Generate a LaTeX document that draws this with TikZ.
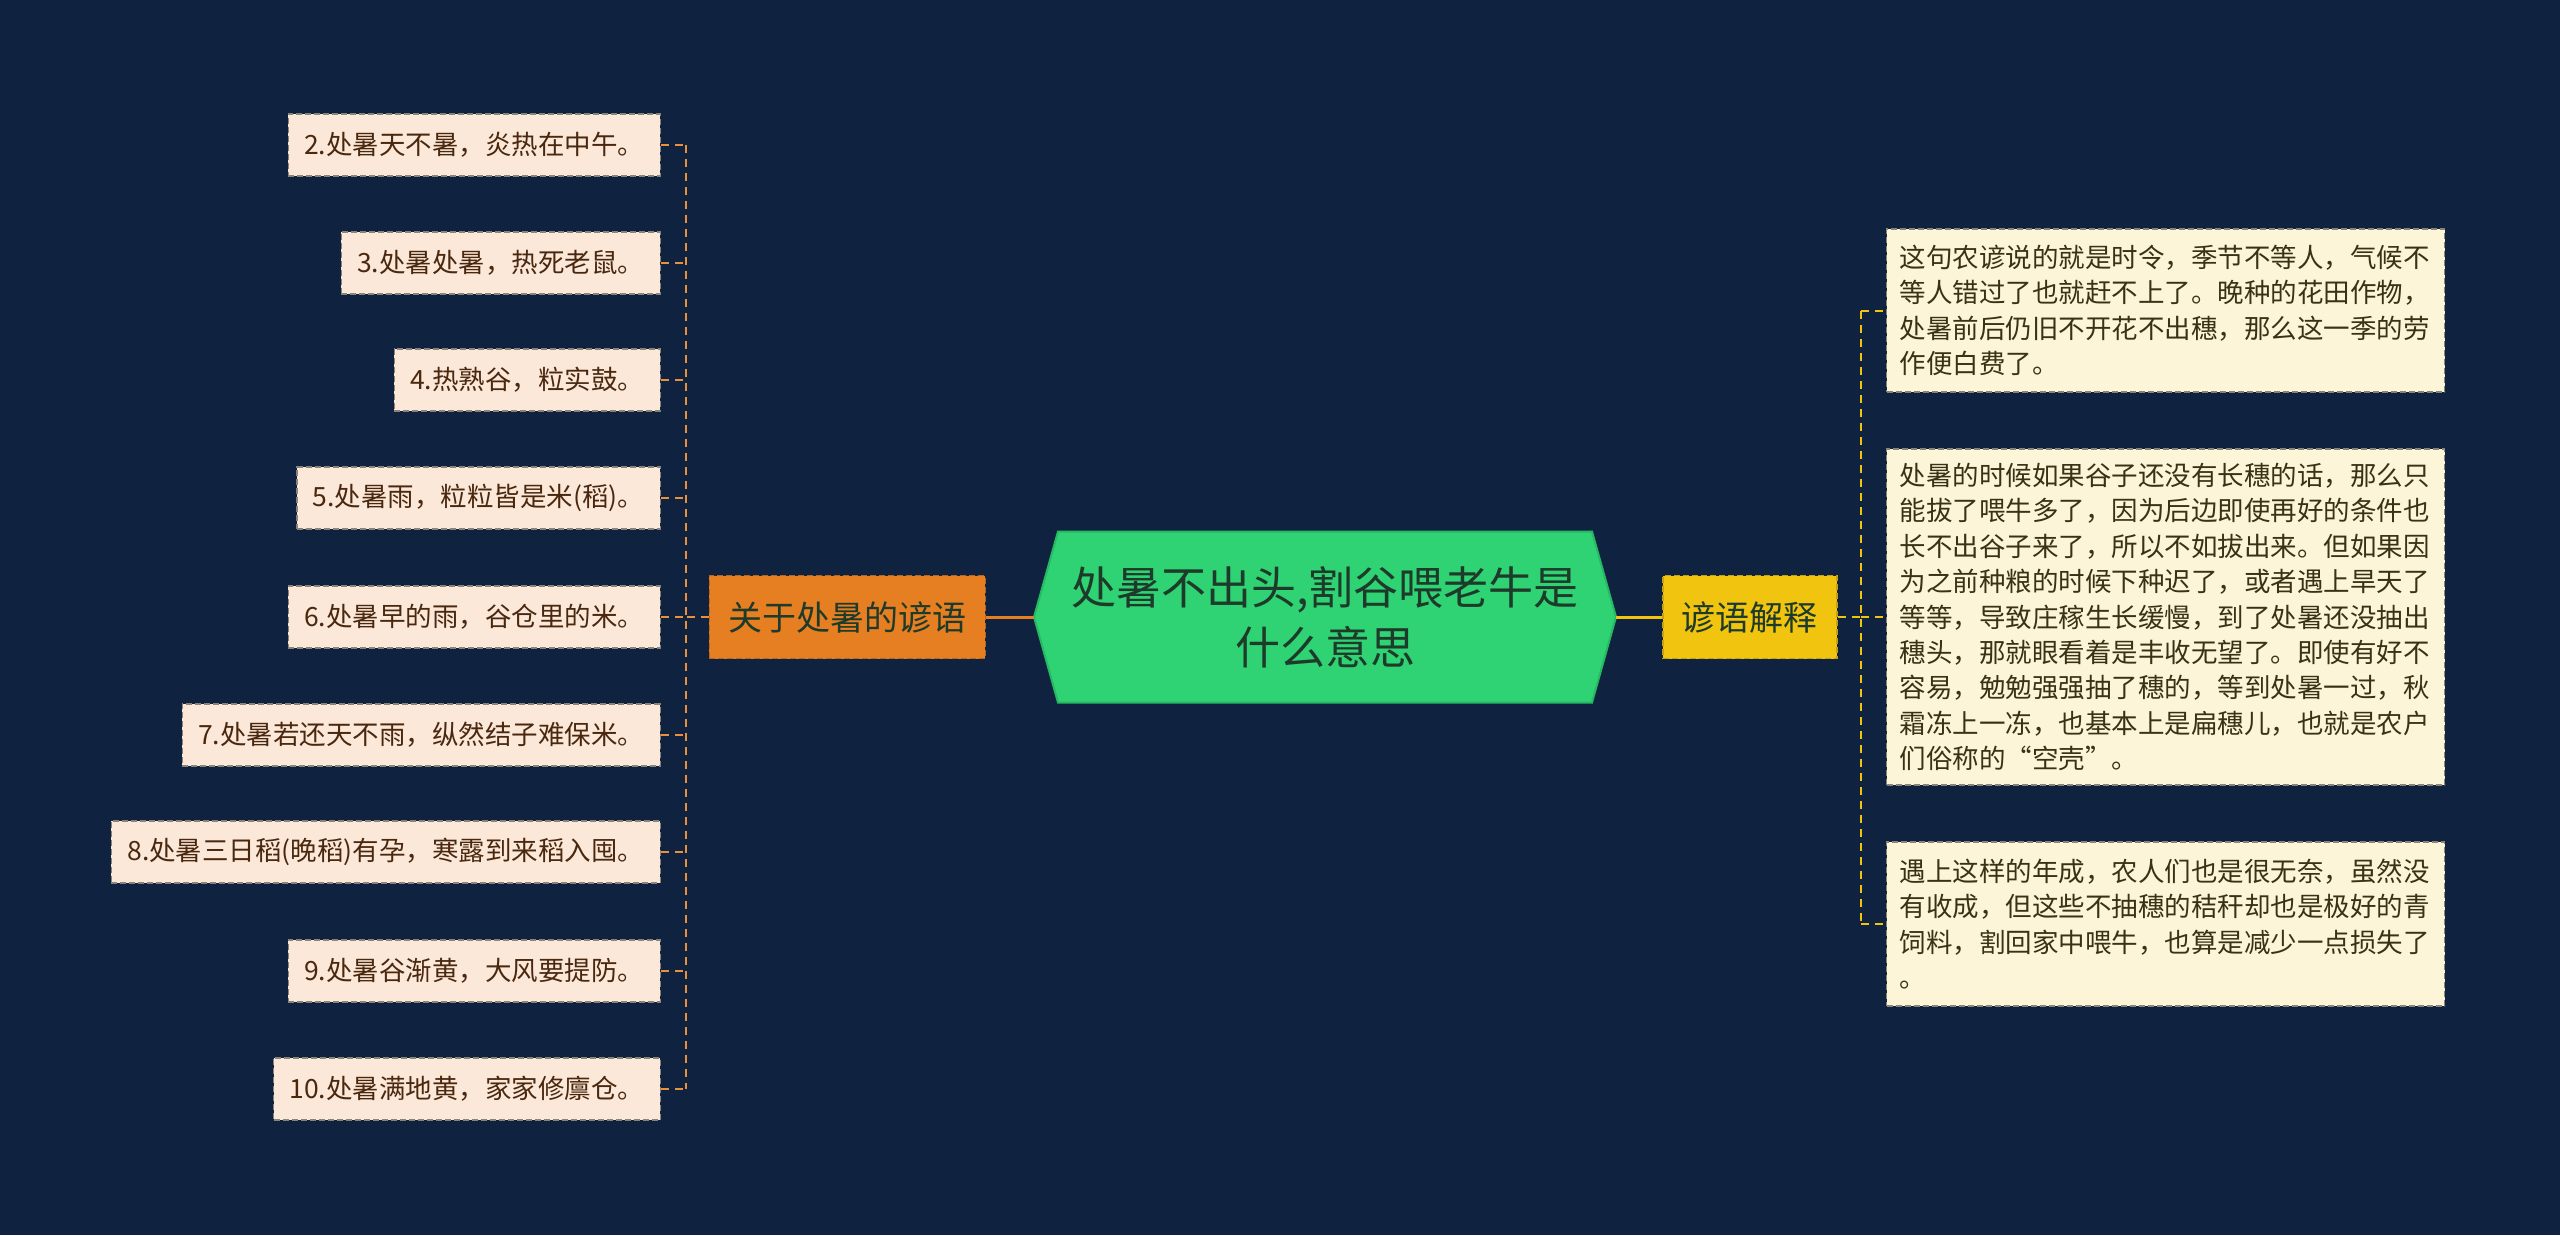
\documentclass[tikz,border=0pt]{standalone}
\usepackage{fontspec}
\setmainfont{Noto Sans CJK SC}
\usetikzlibrary{calc}
\definecolor{bg}{HTML}{0F2340}
\definecolor{hexgreen}{HTML}{2FD373}
\definecolor{hexborder}{HTML}{27B862}
\definecolor{hextext}{HTML}{1E3A2A}
\definecolor{orangeA}{HTML}{E67E22}
\definecolor{orangeB}{HTML}{B8651B}
\definecolor{yellowA}{HTML}{F1C40F}
\definecolor{yellowB}{HTML}{C7A10C}
\definecolor{leafLfill}{HTML}{FBE8D8}
\definecolor{leafLtext}{HTML}{4A2810}
\definecolor{leafRfill}{HTML}{FCF5D8}
\definecolor{leafRtext}{HTML}{3A3216}
\definecolor{leafborder}{HTML}{8A8378}
\definecolor{conL}{HTML}{E8913A}
\definecolor{conR}{HTML}{F1C40F}
\begin{document}
\begin{tikzpicture}[x=1pt,y=-1pt,
  leafL/.style={draw=leafborder, line width=1.3pt, dash pattern=on 6pt off 3pt, fill=leafLfill, text=leafLtext,
    font=\fontsize{26.5}{35.4}\selectfont, inner xsep=16pt, inner ysep=0pt, minimum height=62pt, anchor=east},
  leafR/.style={draw=leafborder, line width=1.3pt, dash pattern=on 6pt off 3pt, fill=leafRfill, text=leafRtext,
    font=\fontsize{26.5}{35.4}\selectfont, inner xsep=13pt, inner ysep=6pt, text width=532pt, align=left, anchor=west},
  midbox/.style={line width=1.5pt, dash pattern=on 6pt off 3pt, font=\fontsize{34}{40}\selectfont,
    inner xsep=19pt, inner ysep=0pt, minimum height=83pt},
  linkL/.style={draw=conL, line width=2pt, dash pattern=on 8pt off 6pt},
  linkR/.style={draw=conR, line width=2pt, dash pattern=on 8pt off 6pt}
]
\fill[bg] (0,0) rectangle (2560,1235);
\useasboundingbox (0,0) rectangle (2560,1235);

% central hexagon
\coordinate (rc) at (1325,617);
\coordinate (hexL) at ($(rc)+(-291,0)$);
\coordinate (hexR) at ($(rc)+(291,0)$);
\draw[fill=hexgreen, draw=hexborder, line width=2pt]
  (hexL) -- ($(rc)+(-267,-85.5)$) -- ($(rc)+(267,-85.5)$) -- (hexR)
  -- ($(rc)+(267,85.5)$) -- ($(rc)+(-267,85.5)$) -- cycle;
\node[text=hextext, font=\fontsize{45}{60}\selectfont, align=center] (root) at (rc)
  {处暑不出头,割谷喂老牛是\\什么意思};

% branch nodes
\node[midbox, draw=orangeB, fill=orangeA, text=hextext, anchor=east] (lore) at (986,617) {关于处暑的谚语};
\node[midbox, draw=yellowB, fill=yellowA, text=hextext, anchor=west] (expl) at (1662,617) {谚语解释};

% left leaves
\node[leafL] (b2) at (661,145) {2.处暑天不暑，炎热在中午。};
\node[leafL] (b3) at (661,263) {3.处暑处暑，热死老鼠。};
\node[leafL] (b4) at (661,380) {4.热熟谷，粒实鼓。};
\node[leafL] (b5) at (661,498) {5.处暑雨，粒粒皆是米(稻)。};
\node[leafL] (b6) at (661,617) {6.处暑早的雨，谷仓里的米。};
\node[leafL] (b7) at (661,735) {7.处暑若还天不雨，纵然结子难保米。};
\node[leafL] (b8) at (661,852) {8.处暑三日稻(晚稻)有孕，寒露到来稻入囤。};
\node[leafL] (b9) at (661,971) {9.处暑谷渐黄，大风要提防。};
\node[leafL] (b10) at (661,1089) {10.处暑满地黄，家家修廪仓。};

% right leaves
\node[leafR, minimum height=163pt] (r1) at (1886,310.5) {这句农谚说的就是时令，季节不等人，气候不\\等人错过了也就赶不上了。晚种的花田作物，\\处暑前后仍旧不开花不出穗，那么这一季的劳\\作便白费了。};
\node[leafR, minimum height=336pt] (r2) at (1886,617) {处暑的时候如果谷子还没有长穗的话，那么只\\能拔了喂牛多了，因为后边即使再好的条件也\\长不出谷子来了，所以不如拔出来。但如果因\\为之前种粮的时候下种迟了，或者遇上旱天了\\等等，导致庄稼生长缓慢，到了处暑还没抽出\\穗头，那就眼看着是丰收无望了。即使有好不\\容易，勉勉强强抽了穗的，等到处暑一过，秋\\霜冻上一冻，也基本上是扁穗儿，也就是农户\\们俗称的“空壳”。};
\node[leafR, minimum height=164pt] (r3) at (1886,924) {遇上这样的年成，农人们也是很无奈，虽然没\\有收成，但这些不抽穗的秸秆却也是极好的青\\饲料，割回家中喂牛，也算是减少一点损失了\\。};

% connectors root -> branches
\draw[orangeA, line width=3pt] (hexL) -- (lore.east);
\draw[yellowA, line width=3pt] (hexR) -- (expl.west);

% left tree
\coordinate (sL) at (686,617);
\draw[linkL] (lore.west) -- (sL);
\draw[linkL] (sL |- b2.east) -- (sL |- b10.east);
\foreach \b in {b2,b3,b4,b5,b6,b7,b8,b9,b10}
  \draw[linkL] (\b.east) -- (\b.east -| sL);

% right tree
\coordinate (sR) at (1861,617);
\draw[linkR] (expl.east) -- (sR);
\draw[linkR] (sR |- r1.west) -- (sR |- r3.west);
\foreach \r in {r1,r2,r3}
  \draw[linkR] (\r.west -| sR) -- (\r.west);
\end{tikzpicture}
\end{document}
